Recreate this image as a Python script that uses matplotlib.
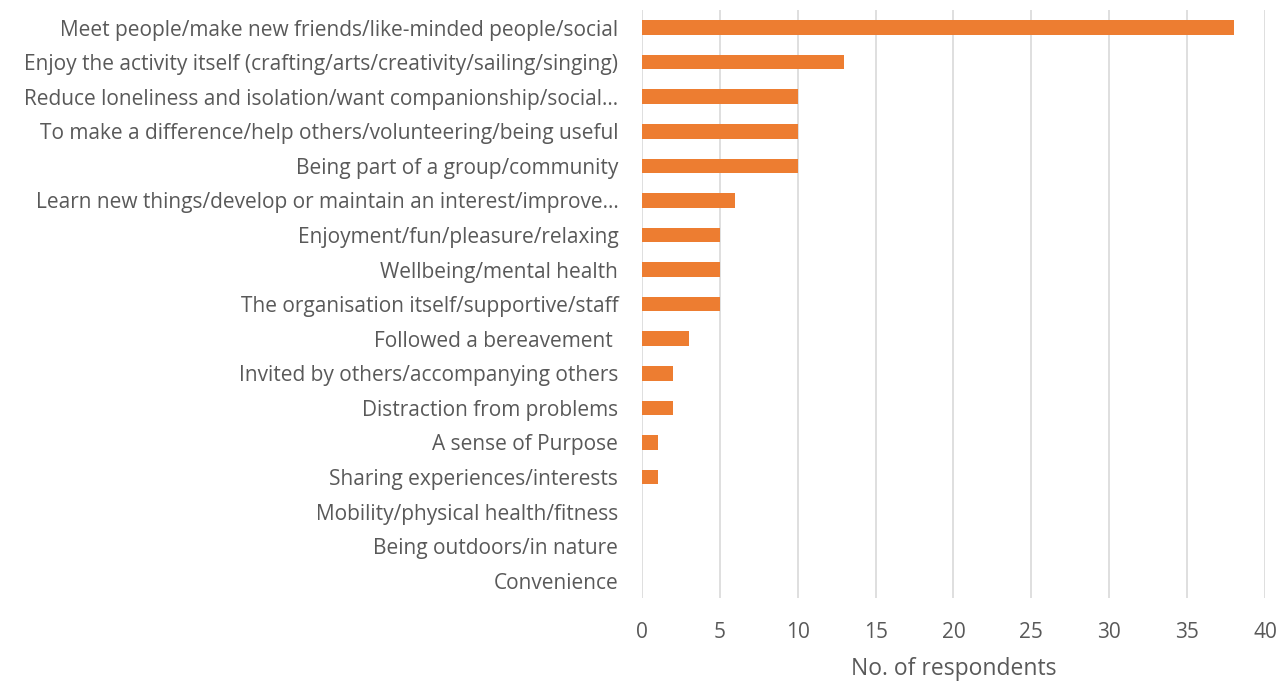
import matplotlib.pyplot as plt

# Данные
categories = [
    'Meet people/make new friends/like-minded people/social',
    'Enjoy the activity itself (crafting/arts/creativity/sailing/singing)',
    'Reduce loneliness and isolation/want companionship/social…',
    'To make a difference/help others/volunteering/being useful',
    'Being part of a group/community',
    'Learn new things/develop or maintain an interest/improve…',
    'Enjoyment/fun/pleasure/relaxing',
    'Wellbeing/mental health',
    'The organisation itself/supportive/staff',
    'Followed a bereavement ',
    'Invited by others/accompanying others',
    'Distraction from problems',
    'A sense of Purpose',
    'Sharing experiences/interests',
    'Mobility/physical health/fitness',
    'Being outdoors/in nature',
    'Convenience',
]
values = [38, 13, 10, 10, 10, 6, 5, 5, 5, 3, 2, 2, 1, 1, 0, 0, 0]
x_ticks = [0, 5, 10, 15, 20, 25, 30, 35, 40]

plt.rcParams['font.family'] = ['Open Sans', 'DejaVu Sans']
text_color = '#595959'

fig = plt.figure(figsize=(12.85, 6.82), dpi=100)
ax = fig.add_axes([0.4996, 0.123, 0.4848, 0.862])

y = list(range(len(categories)))
ax.barh(y, values, height=0.42, color='#ED7D31')
ax.set_ylim(len(categories) - 0.5, -0.5)
ax.set_xlim(0, 40)
ax.set_xticks(x_ticks)
ax.set_yticks(y)
ax.set_yticklabels(categories)

ax.grid(axis='x', color='#d9d9d9', linewidth=1.2)
ax.set_axisbelow(True)
for s in ax.spines.values():
    s.set_visible(False)
ax.tick_params(axis='both', length=0, colors=text_color, labelsize=15)
ax.tick_params(axis='y', pad=17)
ax.tick_params(axis='x', pad=17)
ax.set_xlabel('No. of respondents', color=text_color, fontsize=16.5, labelpad=10)

fig.savefig('out.png', dpi=100)
